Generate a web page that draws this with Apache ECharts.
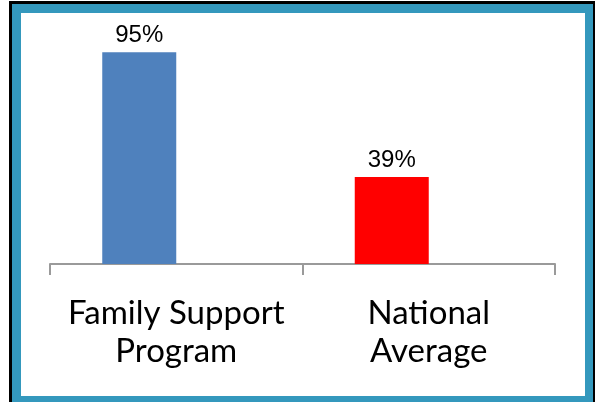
<!DOCTYPE html>
<html>
<head>
<meta charset="utf-8">
<style>
  html, body { margin: 0; padding: 0; background: #fff; }
  #main { width: 599px; height: 402px; }
</style>
<script src="https://cdn.jsdelivr.net/npm/echarts@6/dist/echarts.min.js"></script>
</head>
<body>
<div id="main"></div>
<script>
const categories = ['Family Support\nProgram', 'National\nAverage'];
const values = [95, 39];
const barColors = ['#4f81bd', '#ff0000'];
// Excel left an empty second series, so each bar sits left of its category centre
const spacer = [null, null];

const chart = echarts.init(document.getElementById('main'), null, { renderer: 'canvas' });

const option = {
  animation: false,
  // frame: black shadow, teal band, white panel
  graphic: [
    { type: 'rect', z: -30, shape: { x: 9, y: 1, width: 586, height: 401 }, style: { fill: '#000' } },
    { type: 'rect', z: -20, shape: { x: 12, y: 4, width: 581, height: 398 }, style: { fill: '#3498bd' } },
    { type: 'rect', z: -10, shape: { x: 21, y: 13, width: 564, height: 383 }, style: { fill: '#fff' } }
  ],
  grid: {
    left: 50,
    width: 505,
    top: 41,
    height: 223
  },
  xAxis: {
    type: 'category',
    data: categories,
    axisLine: { lineStyle: { color: '#9a9a9a', width: 2 } },
    axisTick: { show: true, length: 11, lineStyle: { color: '#9a9a9a', width: 2 } },
    axisLabel: {
      color: '#000',
      fontFamily: 'Lato',
      fontSize: 33,
      lineHeight: 38,
      margin: 30,
      interval: 0
    }
  },
  yAxis: {
    type: 'value',
    min: 0,
    max: 100,
    show: false,
    splitLine: { show: false }
  },
  series: [{
    name: 'Rate',
    type: 'bar',
    barWidth: 74,
    barGap: '0%',
    data: values.map((v, i) => ({ value: v, itemStyle: { color: barColors[i] } })),
    label: {
      show: true,
      position: 'top',
      distance: 5,
      formatter: '{c}%',
      color: '#000',
      fontFamily: 'Liberation Sans',
      fontSize: 24
    }
  }, {
    name: 'Spacer',
    type: 'bar',
    barWidth: 74,
    data: spacer
  }]
};
chart.setOption(option);
</script>
</body>
</html>
